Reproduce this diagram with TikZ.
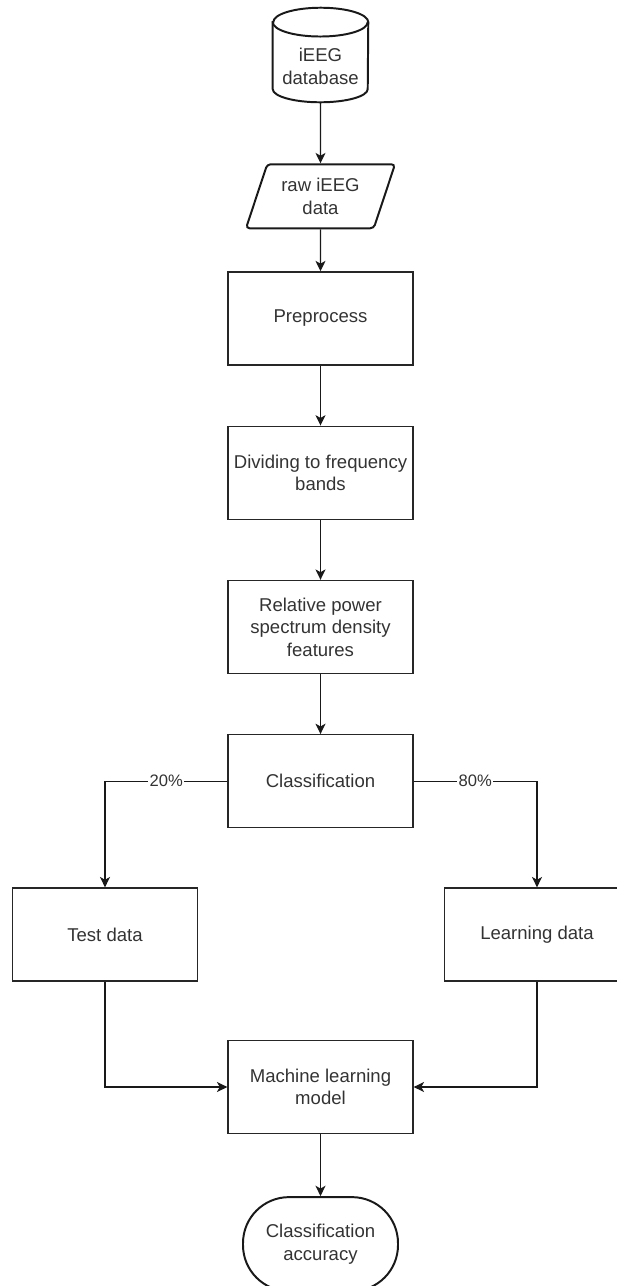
\documentclass[tikz,border=0pt]{standalone}
\usepackage{fontspec}
\setmainfont{Liberation Sans}
\usetikzlibrary{positioning,shapes.geometric,arrows.meta}

\begin{document}
\begin{tikzpicture}
\tikzset{
    block/.style={rectangle, draw=black!85, line width=0.9pt, text=black!80, minimum width=4.625cm, minimum height=2.325cm, align=center, font=\fontsize{13.2}{16}\selectfont},
    dbbox/.style={rectangle, minimum width=2.375cm, minimum height=2.35cm},
    dbtext/.style={text=black!80, align=center, font=\fontsize{13.2}{16}\selectfont},
    iodata/.style={trapezium, trapezium left angle=65, trapezium right angle=115, trapezium stretches body, rounded corners=2.5pt, draw=black!90, line width=1.4pt, text=black!80, minimum width=3.725cm, minimum height=1.6cm, align=center, font=\fontsize{13.2}{16}\selectfont},
    terminal/.style={rectangle, rounded corners=1.15cm, draw=black!90, line width=1.4pt, text=black!80, minimum width=3.875cm, minimum height=2.35cm, align=center, font=\fontsize{13.2}{16}\selectfont},
    flow/.style={draw=black!90, line width=0.9pt, -{Stealth[length=2.6mm, width=2.5mm, inset=0.7mm]}},
    pct/.style={fill=white, inner sep=1pt, text=black!80, font=\fontsize{11.8}{14}\selectfont}
}
\useasboundingbox (0,0) rectangle (15.425,-32.15);

% database cylinder
\node[dbbox] (db) at (8.0125,-1.375) {};
\draw[draw=black!90, line width=1.4pt, fill=white]
    ([yshift=-0.36cm]db.north west) -- ([yshift=0.33cm]db.south west)
    arc[start angle=180, end angle=360, x radius=1.1875cm, y radius=0.33cm]
    -- ([yshift=-0.36cm]db.north east)
    arc[start angle=0, end angle=180, x radius=1.1875cm, y radius=0.36cm] -- cycle;
\draw[draw=black!90, line width=1.4pt] ([yshift=-0.36cm]db.north west)
    arc[start angle=180, end angle=360, x radius=1.1875cm, y radius=0.36cm];
\node[dbtext] (dblabel) at ([yshift=-0.29cm]db.center) {iEEG\\database};

\node[iodata, below=1.525cm of db] (raw) {raw iEEG\\data};
\node[block, below=1.05cm of raw] (prep) {Preprocess};
\node[block, below=1.5cm of prep] (bands) {Dividing to frequency\\bands};
\node[block, below=1.5cm of bands] (psd) {Relative power\\spectrum density\\features};
\node[block, below=1.5cm of psd] (classify) {Classification};
\node[block] (test) at (2.625,-23.3625) {Test data};
\node[block] (learn) at (13.425,-23.3625) {Learning data};
\node[block] (model) at (8.0125,-27.175) {Machine learning\\model};
\node[terminal, below=1.55cm of model] (acc) {Classification\\accuracy};

\draw[flow] (db) -- (raw);
\draw[flow] (raw) -- (prep);
\draw[flow] (prep) -- (bands);
\draw[flow] (bands) -- (psd);
\draw[flow] (psd) -- (classify);
\draw[flow] (classify.west) -| node[pos=0.25, pct] {20\%} (test.north);
\draw[flow] (classify.east) -| node[pos=0.25, pct] {80\%} (learn.north);
\draw[flow] (test.south) |- (model.west);
\draw[flow] (learn.south) |- (model.east);
\draw[flow] (model) -- (acc);
\end{tikzpicture}
\end{document}
